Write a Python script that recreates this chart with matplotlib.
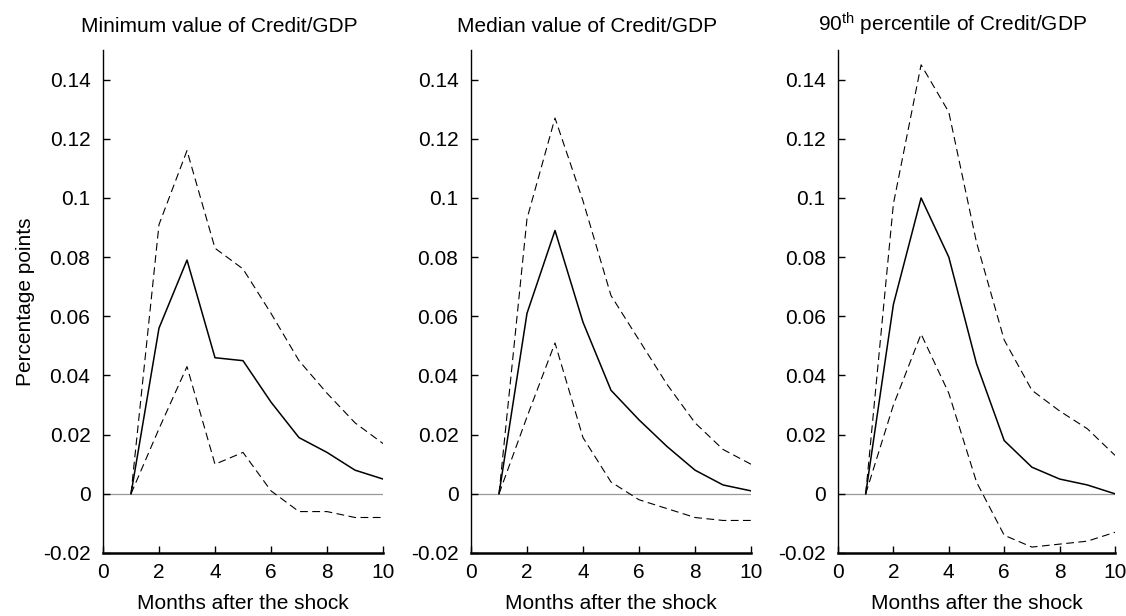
import matplotlib
matplotlib.use("Agg")
import matplotlib.pyplot as plt

plt.rcParams['font.family'] = ['Liberation Sans', 'DejaVu Sans']
plt.rcParams['mathtext.fontset'] = 'custom'
plt.rcParams['mathtext.rm'] = 'Liberation Sans'
plt.rcParams['mathtext.it'] = 'Liberation Sans'

months = [1, 2, 3, 4, 5, 6, 7, 8, 9, 10]
titles = ["Minimum value of Credit/GDP",
          "Median value of Credit/GDP",
          r"90$^{\mathrm{th}}$ percentile of Credit/GDP"]

min_mid = [0, 0.056, 0.079, 0.046, 0.045, 0.031, 0.019, 0.014, 0.008, 0.005]
min_up = [0, 0.091, 0.116, 0.083, 0.076, 0.061, 0.045, 0.034, 0.024, 0.017]
min_lo = [0, 0.022, 0.043, 0.010, 0.014, 0.001, -0.006, -0.006, -0.008, -0.008]

med_mid = [0, 0.061, 0.089, 0.058, 0.035, 0.025, 0.016, 0.008, 0.003, 0.001]
med_up = [0, 0.093, 0.127, 0.099, 0.067, 0.052, 0.037, 0.024, 0.015, 0.010]
med_lo = [0, 0.026, 0.051, 0.019, 0.004, -0.002, -0.005, -0.008, -0.009, -0.009]

p90_mid = [0, 0.064, 0.100, 0.080, 0.044, 0.018, 0.009, 0.005, 0.003, 0.000]
p90_up = [0, 0.098, 0.145, 0.129, 0.085, 0.052, 0.035, 0.028, 0.022, 0.013]
p90_lo = [0, 0.030, 0.054, 0.034, 0.004, -0.014, -0.018, -0.017, -0.016, -0.013]

panels = [(min_mid, min_up, min_lo), (med_mid, med_up, med_lo), (p90_mid, p90_up, p90_lo)]

yticks = [-0.02, 0, 0.02, 0.04, 0.06, 0.08, 0.1, 0.12, 0.14]
ytick_labels = ["-0.02", "0", "0.02", "0.04", "0.06", "0.08", "0.1", "0.12", "0.14"]
xticks = [0, 2, 4, 6, 8, 10]

fig = plt.figure(figsize=(11.26, 6.16), dpi=100)
lefts = [103 / 1126, 471 / 1126, 838 / 1126]
widths = [280 / 1126, 280 / 1126, 277 / 1126]
b = 63 / 616
h = 503 / 616

for i, (mid, up, lo) in enumerate(panels):
    ax = fig.add_axes([lefts[i], b, widths[i], h])
    ax.axhline(0, color='#999999', lw=0.9, zorder=1)
    ax.plot(months, mid, color='black', lw=1.1)
    ax.plot(months, up, color='black', lw=0.8, dashes=(7, 4))
    ax.plot(months, lo, color='black', lw=0.8, dashes=(7, 4))
    ax.set_xlim(0, 10)
    ax.set_ylim(-0.02, 0.15)
    ax.set_xticks(xticks)
    ax.set_xticklabels([str(t) for t in xticks])
    ax.set_yticks(yticks)
    ax.set_yticklabels(ytick_labels)
    for s in ['top', 'right']:
        ax.spines[s].set_visible(False)
    ax.spines['bottom'].set_linewidth(1.8)
    ax.spines['left'].set_linewidth(1.0)
    ax.tick_params(axis='both', direction='in', length=5, width=1, labelsize=15, pad=9)
    ax.tick_params(axis='x', pad=7)
    ax.set_title(titles[i], fontsize=15, x=0.415, pad=13)
    ax.set_xlabel("Months after the shock", fontsize=15, labelpad=9)
    if i == 0:
        ax.set_ylabel("Percentage points", fontsize=15, labelpad=6)

fig.savefig("out.png", dpi=100)
